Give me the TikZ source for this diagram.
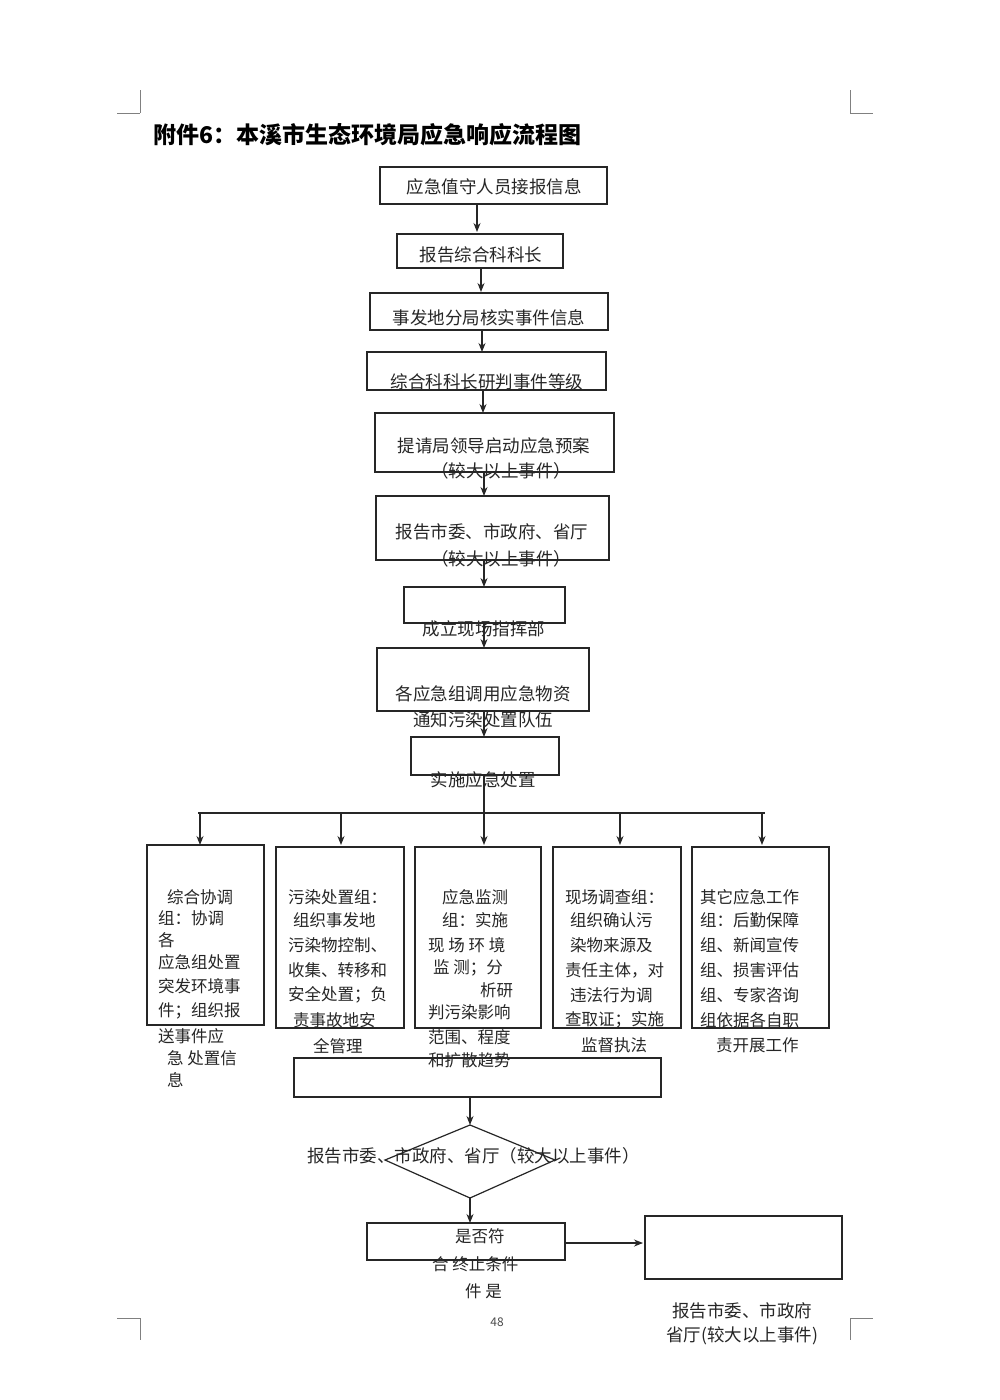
\documentclass[tikz,border=0pt]{standalone}
\usepackage{fontspec}
\setmainfont{Noto Sans CJK SC}
\usetikzlibrary{arrows.meta}
\begin{document}
\begin{tikzpicture}[x=1pt,y=-1pt,
  box/.style={draw=black!85,line width=1.2pt},
  arr/.style={draw=black!85,line width=1.2pt,-{Stealth[length=9pt,width=7pt]}},
  t/.style={inner sep=0pt,font=\fontsize{17.5}{20}\selectfont,text=black!85},
  s/.style={inner sep=0pt,anchor=west,font=\fontsize{16.5}{19}\selectfont,text=black!85},
  cmark/.style={draw=black!50,line width=0.8pt}]
\useasboundingbox[fill=white] (0,0) rectangle (1000,1400);
% corner marks
\draw[cmark] (140,90)--(140,113) (117,113)--(140,113);
\draw[cmark] (850,90)--(850,113) (850,113)--(873,113);
\draw[cmark] (140,1318)--(140,1340) (117,1318)--(140,1318);
\draw[cmark] (850,1318)--(850,1340) (850,1318)--(873,1318);
\node[anchor=west,inner sep=0pt,font=\fontsize{23}{26}\selectfont\bfseries] (title) at (153,135) {附件6：本溪市生态环境局应急响应流程图};
% main chain
\draw[box] (380,167) rectangle (607,204); \node[t] (b1) at (494,187) {应急值守人员接报信息};
\draw[box] (397,234) rectangle (563,268); \node[t] (b2) at (481,255) {报告综合科科长};
\draw[box] (370,293) rectangle (608,330); \node[t] (b3) at (489,318) {事发地分局核实事件信息};
\draw[box] (367,352) rectangle (606,390); \node[t] (b4) at (487,382) {综合科科长研判事件等级};
\draw[box] (375,413) rectangle (614,472); \node[t] (b5) at (494,446) {提请局领导启动应急预案};
\node[t] (b5b) at (501,471) {（较大以上事件）};
\draw[box] (376,496) rectangle (609,560); \node[t] (b6) at (492,532) {报告市委、市政府、省厅};
\node[t] (b6b) at (501,559) {（较大以上事件）};
\draw[box] (404,587) rectangle (565,623); \node[t] (b7) at (484,629) {成立现场指挥部};
\draw[box] (377,648) rectangle (589,711); \node[t] (b8) at (483,694) {各应急组调用应急物资};
\node[t] (b8b) at (483,720) {通知污染处置队伍};
\draw[box] (411,737) rectangle (559,775); \node[t] (b9) at (483,780) {实施应急处置};
\coordinate (a1) at (477,204); \coordinate (a1e) at (477,232); \draw[arr] (a1)--(a1e);
\coordinate (a2) at (481,268); \coordinate (a2e) at (481,292); \draw[arr] (a2)--(a2e);
\coordinate (a3) at (482,330); \coordinate (a3e) at (482,352); \draw[arr] (a3)--(a3e);
\coordinate (a4) at (483,390); \coordinate (a4e) at (483,413); \draw[arr] (a4)--(a4e);
\coordinate (a5) at (484,472); \coordinate (a5e) at (484,496); \draw[arr] (a5)--(a5e);
\coordinate (a6) at (484,560); \coordinate (a6e) at (484,587); \draw[arr] (a6)--(a6e);
\coordinate (a7) at (484,623); \coordinate (a7e) at (484,648); \draw[arr] (a7)--(a7e);
\coordinate (a8) at (484,711); \coordinate (a8e) at (484,737); \draw[arr] (a8)--(a8e);
\coordinate (a9) at (484,775); \coordinate (a9e) at (484,813);
\draw[box] (a9)--(a9e);
\coordinate (hl) at (198,813); \coordinate (hr) at (765,813);
\draw[box] (hl)--(hr);
\foreach \x in {200,341,484,620,762}{\draw[arr] (\x,813)--(\x,845);}
% five boxes
\draw[box] (147,845) rectangle (264,1025);
\draw[box] (276,847) rectangle (404,1028);
\draw[box] (415,847) rectangle (541,1028);
\draw[box] (553,847) rectangle (681,1028);
\draw[box] (692,847) rectangle (829,1028);
\node[s] (c11) at (167,897) {综合协调};
\node[s] (c12) at (158,918) {组：协调};
\node[s] (c13) at (158,940) {各};
\node[s] (c14) at (158,962) {应急组处置};
\node[s] (c15) at (158,986) {突发环境事};
\node[s] (c16) at (158,1011) {件；组织报};
\node[s] (c17) at (158,1036) {送事件应};
\node[s] (c18) at (167,1058) {急 处置信};
\node[s] (c19) at (167,1080) {息};
\node[s] (c21) at (288,897) {污染处置组：};
\node[s] (c22) at (293,920) {组织事发地};
\node[s] (c23) at (288,945) {污染物控制、};
\node[s] (c24) at (288,970) {收集、转移和};
\node[s] (c25) at (288,995) {安全处置；负};
\node[s] (c26) at (293,1020) {责事故地安};
\node[s] (c27) at (313,1046) {全管理};
\node[s] (c31) at (442,897) {应急监测};
\node[s] (c32) at (442,920) {组：实施};
\node[s] (c33) at (428,945) {现 场 环 境};
\node[s] (c34) at (433,968) {监 测；分};
\node[s] (c35) at (480,990) {析研};
\node[s] (c36) at (428,1012) {判污染影响};
\node[s] (c37) at (428,1037) {范围、程度};
\node[s] (c38) at (428,1060) {和扩散趋势};
\node[s] (c41) at (565,897) {现场调查组：};
\node[s] (c42) at (570,920) {组织确认污};
\node[s] (c43) at (570,945) {染物来源及};
\node[s] (c44) at (565,970) {责任主体，对};
\node[s] (c45) at (570,995) {违法行为调};
\node[s] (c46) at (565,1020) {查取证；实施};
\node[s] (c47) at (581,1045) {监督执法};
\node[s] (c51) at (700,897) {其它应急工作};
\node[s] (c52) at (700,920) {组：后勤保障};
\node[s] (c53) at (700,945) {组、新闻宣传};
\node[s] (c54) at (700,970) {组、损害评估};
\node[s] (c55) at (700,995) {组、专家咨询};
\node[s] (c56) at (700,1020) {组依据各自职};
\node[s] (c57) at (716,1045) {责开展工作};
% lower part
\draw[box] (294,1058) rectangle (661,1097);
\coordinate (w) at (470,1097);
\coordinate (dt) at (470,1125); \coordinate (dl) at (385,1160);
\coordinate (db) at (470,1198); \coordinate (dr) at (555,1160);
\draw[arr] (w)--(dt);
\draw[box] (dt)--(dr)--(db)--(dl)--cycle;
\node[t,anchor=west] (d) at (307,1156) {报告市委、市政府、省厅（较大以上事件）};
\draw[box] (367,1223) rectangle (565,1260);
\coordinate (ee) at (470,1223);
\draw[arr] (db)--(ee);
\node[s] (e1) at (455,1236) {是否符};
\node[s] (e2) at (432,1264) {合 终止条件};
\node[s] (e3) at (465,1291) {件 是};
\draw[box] (645,1216) rectangle (842,1279);
\coordinate (g1) at (565,1243); \coordinate (g2) at (643,1243);
\draw[arr] (g1)--(g2);
\node[t] (f1) at (742,1311) {报告市委、市政府};
\node[t] (f2) at (742,1336) {省厅(较大以上事件)};
\node[inner sep=0pt,font=\fontsize{12}{14}\selectfont,text=black!70] (pg) at (497,1322) {48};
\end{tikzpicture}
\end{document}
